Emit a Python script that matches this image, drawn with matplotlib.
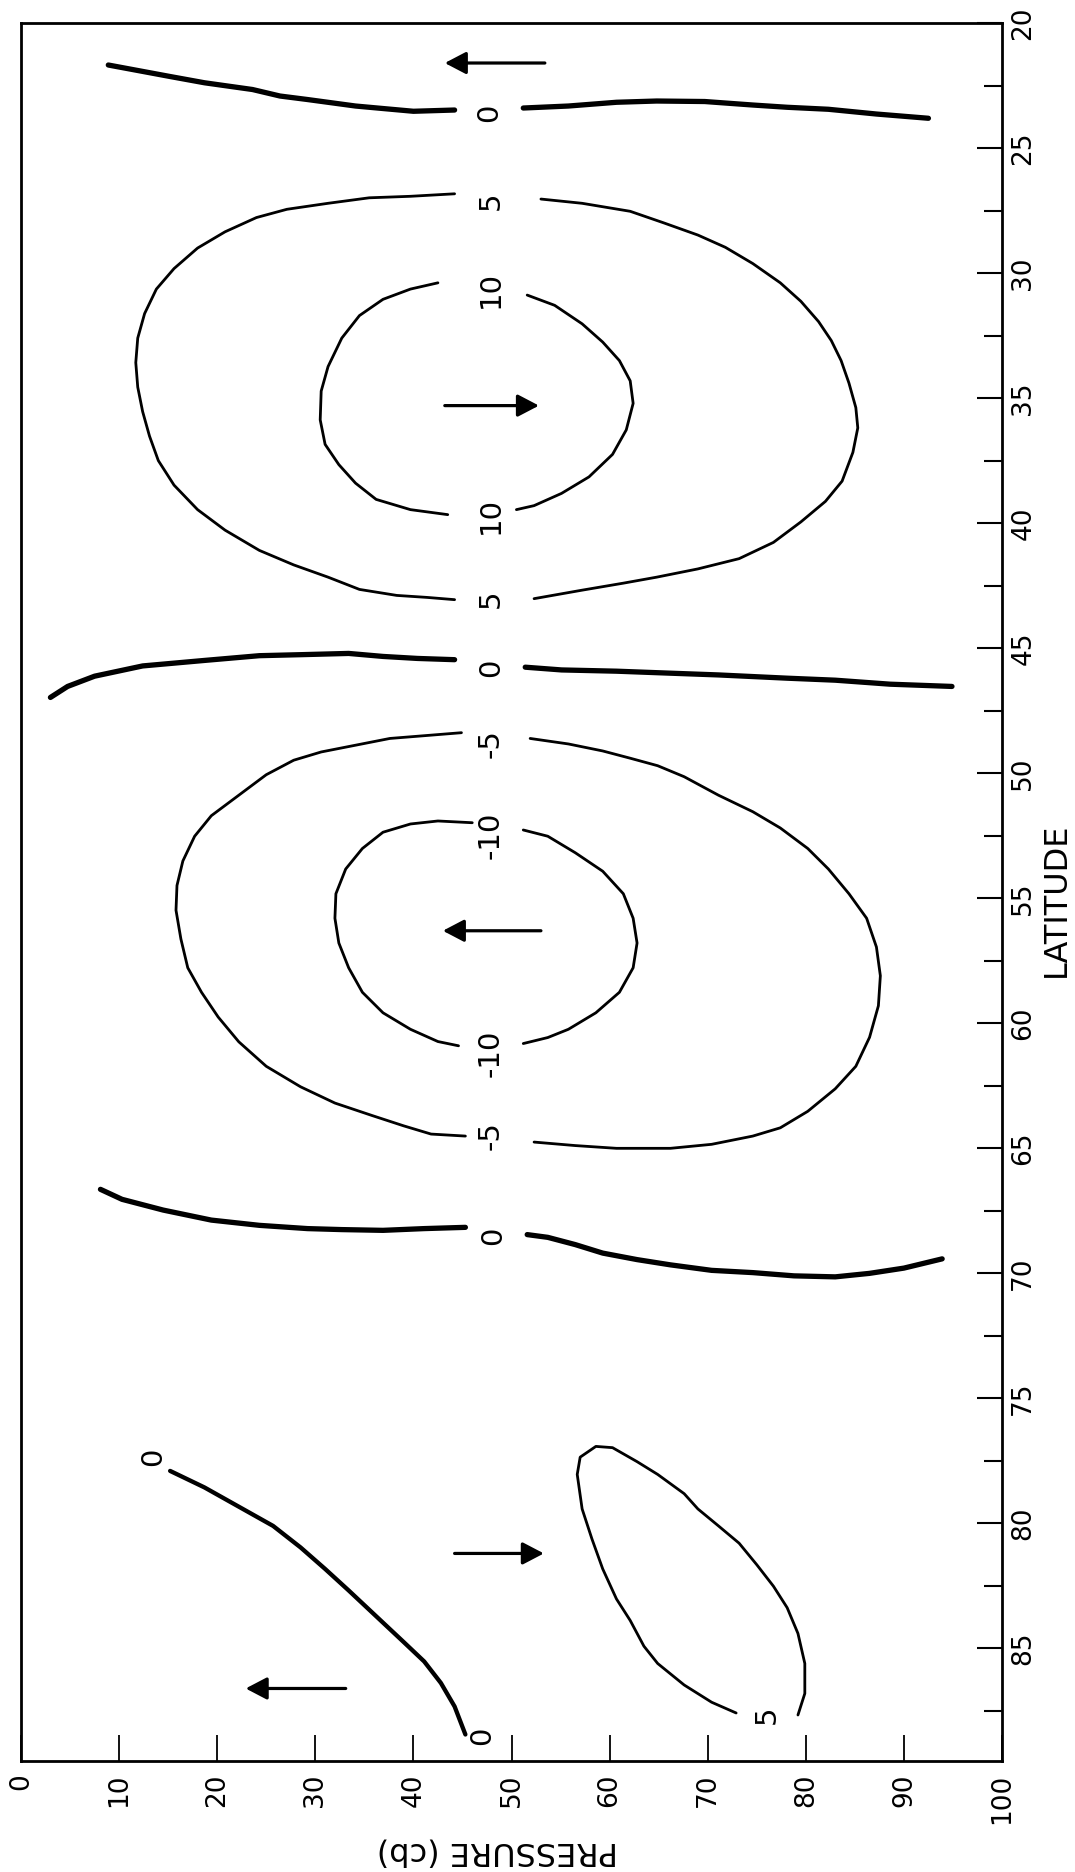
import matplotlib
matplotlib.use("Agg")
import matplotlib.pyplot as plt
from matplotlib.ticker import FixedLocator

# Mean meridional circulation: streamline segments as (pressure cb, latitude deg)

# zero streamline, subtropical edge
psi0_sub_a = [(8.9, 21.68), (15.2, 22.14), (18.7, 22.39), (23.6, 22.66), (26.4, 22.92),
              (29.2, 23.06), (34.1, 23.32), (36.9, 23.42), (40.0, 23.53), (44.2, 23.48)]
psi0_sub_b = [(51.2, 23.40), (55.8, 23.32), (60.7, 23.17), (64.8, 23.12), (69.7, 23.14),
              (74.6, 23.28), (78.1, 23.37), (82.3, 23.45), (87.2, 23.64), (92.5, 23.81)]

# +5 streamline, direct (Hadley-type) cell
psi5_a = [(44.2, 26.83), (39.7, 26.93), (35.5, 26.99), (31.3, 27.21), (27.1, 27.45),
          (24.0, 27.78), (20.8, 28.35), (18.0, 29.0), (15.6, 29.82), (13.8, 30.64),
          (12.6, 31.62), (11.9, 32.6), (11.7, 33.58), (11.9, 34.56), (12.4, 35.54),
          (13.1, 36.52), (14.0, 37.5), (15.6, 38.48), (18.0, 39.46), (20.8, 40.28),
          (24.3, 41.09), (27.8, 41.67), (31.3, 42.16), (34.5, 42.65), (38.3, 42.89),
          (41.4, 42.97), (44.2, 43.06)]
psi5_b = [(53.0, 27.04), (57.2, 27.21), (62.1, 27.53), (65.5, 27.99), (69.0, 28.48),
          (71.8, 28.97), (74.6, 29.62), (77.4, 30.39), (79.5, 31.13), (81.3, 31.94),
          (82.6, 32.7), (83.6, 33.5), (84.4, 34.4), (85.1, 35.38), (85.3, 36.19),
          (84.8, 37.17), (83.7, 38.32), (82.0, 39.13), (79.5, 39.95), (76.7, 40.77),
          (73.2, 41.42), (69.0, 41.83), (64.8, 42.16), (61.4, 42.4), (57.2, 42.68),
          (52.3, 43.02)]

# +10 streamline
psi10_a = [(42.5, 30.39), (39.7, 30.64), (36.9, 31.05), (34.5, 31.70), (32.7, 32.6),
           (31.3, 33.74), (30.6, 34.72), (30.5, 35.87), (31.0, 36.85), (32.4, 37.66),
           (34.1, 38.40), (36.2, 39.05), (39.7, 39.46), (43.5, 39.66)]
psi10_b = [(51.6, 30.88), (54.4, 31.29), (57.2, 32.03), (59.3, 32.76), (61.0, 33.5),
           (62.1, 34.31), (62.4, 35.21), (61.7, 36.27), (60.3, 37.25), (57.9, 38.15),
           (55.1, 38.81), (52.3, 39.3), (50.5, 39.46)]

# zero streamline, mid-latitudes
psi0_mid_a = [(3.0, 46.97), (4.75, 46.53), (7.5, 46.12), (12.4, 45.71), (18.7, 45.49),
              (24.3, 45.30), (28.5, 45.26), (33.4, 45.21), (36.9, 45.33), (40.4, 45.41),
              (44.2, 45.46)]
psi0_mid_b = [(51.4, 45.76), (55.1, 45.87), (60.7, 45.92), (66.2, 46.0), (71.1, 46.07),
              (78.1, 46.2), (83.0, 46.28), (88.6, 46.44), (94.9, 46.53)]

# -5 streamline, indirect (Ferrel-type) cell
psim5_a = [(44.9, 48.38), (41.1, 48.50), (37.6, 48.61), (34.1, 48.88), (30.6, 49.15),
           (27.8, 49.48), (25.0, 50.06), (22.2, 50.88), (19.4, 51.70), (17.7, 52.52),
           (16.5, 53.51), (15.9, 54.49), (15.8, 55.48), (16.3, 56.63), (17.0, 57.78),
           (18.4, 58.76), (20.1, 59.75), (22.2, 60.74), (25.0, 61.72), (28.5, 62.54),
           (32.0, 63.19), (35.8, 63.69), (39.0, 64.10), (41.8, 64.43), (45.3, 64.51)]
psim5_b = [(51.9, 48.61), (55.8, 48.83), (59.3, 49.11), (62.1, 49.40), (64.9, 49.70),
           (67.6, 50.14), (71.1, 50.88), (74.6, 51.54), (77.4, 52.19), (80.2, 53.01),
           (82.3, 53.83), (84.4, 54.82), (86.2, 55.80), (87.2, 56.95), (87.6, 58.10),
           (87.4, 59.3), (86.5, 60.56), (85.1, 61.72), (83.0, 62.62), (80.2, 63.52),
           (77.4, 64.18), (74.6, 64.51), (70.4, 64.84), (66.2, 65.0), (60.7, 65.0),
           (56.5, 64.89), (52.3, 64.75)]

# -10 streamline
psim10_a = [(46.0, 51.98), (42.5, 51.91), (39.7, 52.03), (36.9, 52.36), (34.8, 53.01),
            (33.1, 53.83), (32.1, 54.82), (32.0, 55.80), (32.4, 56.79), (33.4, 57.78),
            (34.8, 58.76), (36.9, 59.58), (39.7, 60.24), (42.5, 60.73), (44.6, 60.90)]
psim10_b = [(51.2, 52.27), (53.7, 52.52), (56.5, 53.18), (59.3, 53.92), (61.4, 54.82),
            (62.4, 55.80), (62.8, 56.79), (62.4, 57.78), (61.0, 58.76), (58.6, 59.58),
            (55.8, 60.24), (53.7, 60.57), (51.2, 60.81)]

# zero streamline, subpolar edge
psi0_pol_a = [(8.1, 66.64), (10.3, 67.04), (14.5, 67.47), (19.4, 67.87), (24.3, 68.08),
              (29.2, 68.21), (32.7, 68.25), (36.9, 68.28), (41.1, 68.21), (45.3, 68.16)]
psi0_pol_b = [(51.6, 68.45), (53.7, 68.56), (56.5, 68.85), (59.3, 69.19), (62.8, 69.45),
              (66.2, 69.66), (70.4, 69.88), (74.6, 69.97), (78.8, 70.10), (83.0, 70.14),
              (86.5, 70.0), (90.0, 69.79), (93.9, 69.42)]

# zero streamline, polar cell boundary
psi0_diag = [(15.2, 77.90), (18.7, 78.56), (22.2, 79.33), (25.7, 80.10), (28.5, 80.96),
             (31.0, 81.82), (33.4, 82.68), (36.2, 83.71), (39.0, 84.74), (41.1, 85.52),
             (42.8, 86.38), (44.2, 87.32), (45.3, 88.44)]

# +5 streamline, polar cell
psi5_pol = [(72.9, 87.58), (70.4, 87.15), (67.6, 86.46), (64.9, 85.60), (63.5, 84.91),
            (62.1, 83.88), (60.7, 83.02), (59.3, 81.82), (58.2, 80.62), (57.2, 79.42),
            (56.7, 78.04), (57.0, 77.35), (58.6, 76.92), (60.3, 76.97), (62.8, 77.53),
            (64.9, 78.04), (67.6, 78.81), (69.0, 79.42), (71.1, 80.10), (73.2, 80.79),
            (75.0, 81.65), (76.7, 82.51), (78.1, 83.37), (79.2, 84.40), (79.9, 85.60),
            (79.9, 86.80), (79.2, 87.66)]

heavy_lines = [psi0_sub_a, psi0_sub_b, psi0_mid_a, psi0_mid_b, psi0_pol_a, psi0_pol_b]
medium_lines = [psi0_diag]
light_lines = [psi5_a, psi5_b, psi10_a, psi10_b, psim5_a, psim5_b, psim10_a, psim10_b,
               psi5_pol]

# streamline values written on the lines: (text, pressure, latitude)
line_labels = [("0", 47.7, 23.6), ("5", 47.9, 27.1), ("10", 47.9, 30.65),
               ("10", 47.9, 39.7), ("5", 47.9, 43.02), ("0", 47.9, 45.8),
               ("-5", 47.9, 48.8), ("-10", 47.9, 52.5), ("-10", 47.9, 61.2),
               ("-5", 47.9, 64.5), ("0", 48.1, 68.5), ("0", 13.5, 77.35),
               ("0", 47.0, 88.5), ("5", 76.0, 87.66)]

# flow direction arrows: (tail pressure, head pressure, latitude)
flow_arrows = [(53.4, 43.2, 21.6), (43.2, 52.8, 35.3), (53.0, 43.0, 56.3),
               (44.2, 53.3, 81.2), (33.1, 22.9, 86.6)]

pressure_ticks = [0, 10, 20, 30, 40, 50, 60, 70, 80, 90, 100]
latitude_ticks = [20, 25, 30, 35, 40, 45, 50, 55, 60, 65, 70, 75, 80, 85]
latitude_minor = [22.5, 27.5, 32.5, 37.5, 42.5, 47.5, 52.5, 57.5, 62.5, 67.5, 72.5,
                  77.5, 82.5, 87.5]

W, H = 1075, 1872
fig = plt.figure(figsize=(W / 100, H / 100), dpi=100)
ax = fig.add_axes([21 / W, 1 - 1761 / H, (1002 - 21) / W, (1761 - 23) / H])
ax.set_xlim(0, 100)
ax.set_ylim(89.5, 20)

def draw(seg, lw):
    ax.plot([q[0] for q in seg], [q[1] for q in seg], color="black", lw=lw,
            solid_capstyle="round", solid_joinstyle="round")

for s in heavy_lines:
    draw(s, 3.8)
for s in medium_lines:
    draw(s, 3.1)
for s in light_lines:
    draw(s, 2.0)

for txt, p, lat in line_labels:
    ax.text(p, lat, txt, rotation=90, ha="center", va="center", fontsize=21,
            color="black")

for p0, p1, lat in flow_arrows:
    ax.annotate("", xy=(p1, lat), xytext=(p0, lat),
                arrowprops=dict(arrowstyle="-|>,head_length=0.65,head_width=0.34",
                                lw=2.3, color="black", mutation_scale=20,
                                shrinkA=0, shrinkB=0))

# frame and ticks
for sp in ax.spines.values():
    sp.set_linewidth(2.0)
ax.xaxis.set_major_locator(FixedLocator(pressure_ticks))
ax.set_xticklabels([str(v) for v in pressure_ticks])
ax.yaxis.set_major_locator(FixedLocator(latitude_ticks))
ax.yaxis.set_minor_locator(FixedLocator(latitude_minor))
ax.set_yticklabels([str(v) for v in latitude_ticks])
ax.yaxis.tick_right()
ax.tick_params(axis="x", which="major", direction="in", length=19, width=1.3,
               labelsize=19, labelrotation=90, pad=9, top=False)
ax.tick_params(axis="y", which="major", direction="in", length=18, width=1.5,
               labelsize=19, labelrotation=90, pad=6, left=False, right=True)
ax.tick_params(axis="y", which="minor", direction="in", length=13, width=1.5,
               left=False, right=True)
for lab in ax.get_yticklabels():
    lab.set_va("center")

fig.text(1056 / W, 1 - 900 / H, "LATITUDE", rotation=90, ha="center", va="center",
         fontsize=23)
fig.text(497 / W, 1 - 1851 / H, "PRESSURE (cb)", rotation=180, ha="center",
         va="center", fontsize=23)

fig.savefig("out.png", dpi=100, facecolor="white")
